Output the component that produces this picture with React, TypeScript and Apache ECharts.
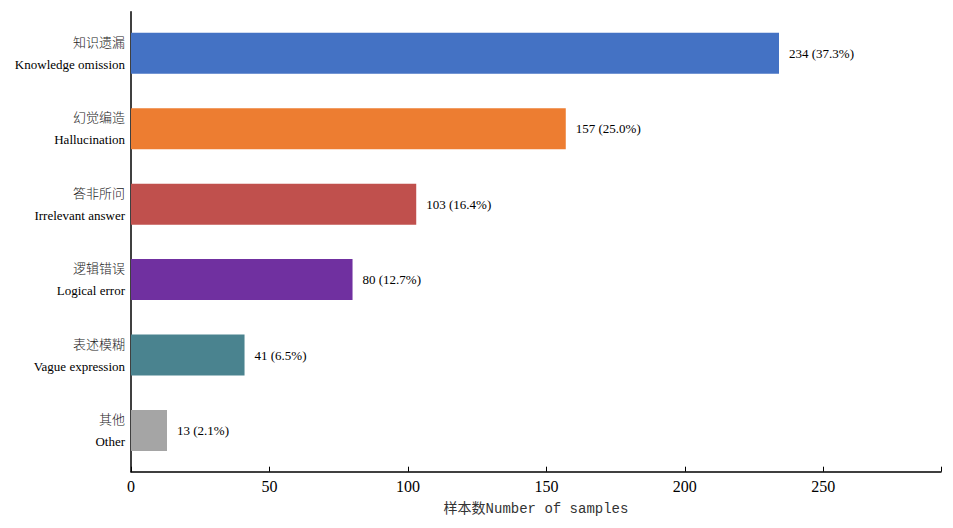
import React, { useEffect, useRef } from 'react';
import * as echarts from 'echarts';

const categoriesZh = ['知识遗漏', '幻觉编造', '答非所问', '逻辑错误', '表述模糊', '其他'];
const categoriesEn = ['Knowledge omission', 'Hallucination', 'Irrelevant answer', 'Logical error', 'Vague expression', 'Other'];
const counts = [234, 157, 103, 80, 41, 13];
const percents = ['37.3', '25.0', '16.4', '12.7', '6.5', '2.1'];
const barColors = ['#4472C4', '#ED7D31', '#C0504D', '#7030A0', '#4A838F', '#A5A5A5'];
const xTicks = [0, 50, 100, 150, 200, 250];
const xMax = 292.5;

const SERIF = '"Liberation Serif", "Noto Sans CJK SC", serif';

const App: React.FC = () => {
  const chartRef = useRef<HTMLDivElement>(null);

  useEffect(() => {
    if (!chartRef.current) return;
    const chart = echarts.init(chartRef.current, undefined, { renderer: 'svg' });

    const option: echarts.EChartsOption = {
      animation: false,
      backgroundColor: '#ffffff',
      grid: [
        // outer frame: axis lines and x tick labels
        { left: 131, right: 12, top: 11.7, bottom: 56.3 },
        // bars: category bands inset like matplotlib margins
        { left: 131, right: 12, top: 15.6, bottom: 59.8 }
      ],
      xAxis: [
        {
          gridIndex: 0,
          type: 'value',
          min: 0,
          max: xMax,
          interval: 50,
          name: '样本数Number of samples',
          nameLocation: 'middle',
          nameGap: 30,
          nameTextStyle: { fontFamily: '"Liberation Mono", "Noto Sans CJK SC", monospace', fontSize: 14, color: '#333' },
          axisLine: { show: true, lineStyle: { color: '#000', width: 1.5 } },
          axisTick: { show: true, inside: true, length: 5, lineStyle: { color: '#000' } },
          axisLabel: {
            fontFamily: SERIF,
            fontSize: 16,
            color: '#000',
            margin: 7,
            formatter: (v: number) => (xTicks.includes(v) ? String(v) : '')
          },
          splitLine: { show: false }
        },
        {
          gridIndex: 1,
          type: 'value',
          min: 0,
          max: xMax,
          show: false
        }
      ],
      yAxis: [
        {
          gridIndex: 0,
          type: 'value',
          min: 0,
          max: 1,
          axisLine: { show: true, lineStyle: { color: '#000', width: 1.5 } },
          axisTick: { show: false },
          axisLabel: { show: false },
          splitLine: { show: false }
        },
        {
          gridIndex: 1,
          type: 'category',
          inverse: true,
          data: categoriesZh.map((zh, i) => `{zh|${zh}}\n{en|${categoriesEn[i]}}`),
          axisLine: { show: false },
          axisTick: { show: true, inside: true, length: 4, alignWithLabel: true, lineStyle: { color: '#000' } },
          axisLabel: {
            color: '#000',
            margin: 6,
            align: 'right',
            rich: {
              zh: { fontFamily: SERIF, fontSize: 13, fontWeight: 300, color: '#222', lineHeight: 22 },
              en: { fontFamily: SERIF, fontSize: 13, color: '#000', lineHeight: 22 }
            }
          },
          splitLine: { show: false }
        }
      ],
      series: [
        {
          type: 'bar',
          xAxisIndex: 1,
          yAxisIndex: 1,
          barWidth: 41,
          data: counts.map((v, i) => ({ value: v, itemStyle: { color: barColors[i] } })),
          label: {
            show: true,
            position: 'right',
            distance: 10,
            fontFamily: SERIF,
            fontSize: 13,
            color: '#000',
            formatter: (p: any) => `${counts[p.dataIndex]} (${percents[p.dataIndex]}%)`
          }
        }
      ]
    };

    chart.setOption(option);
    return () => {
      chart.dispose();
    };
  }, []);

  return (
    <div
      ref={chartRef}
      style={{ position: 'fixed', left: 0, top: 0, width: 953, height: 528, background: '#fff' }}
    />
  );
};

export default App;
